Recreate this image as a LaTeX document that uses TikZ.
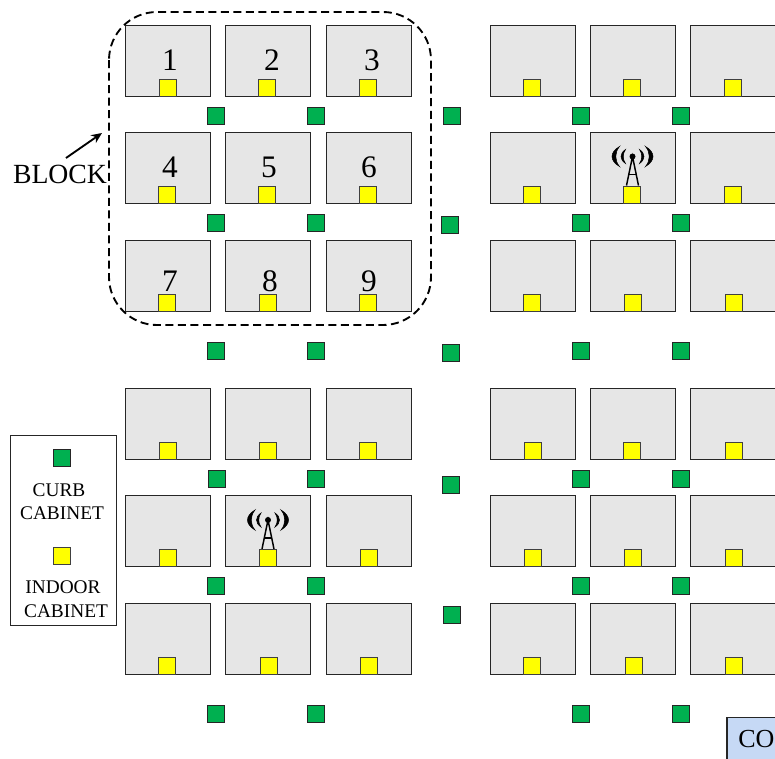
\documentclass[tikz,border=0pt]{standalone}
\usepackage{fontspec}
\setmainfont{Liberation Serif}
\usetikzlibrary{arrows.meta}
\definecolor{bldfill}{HTML}{E6E6E6}
\definecolor{curbgreen}{HTML}{00B050}
\definecolor{indooryellow}{HTML}{FFFF00}
\definecolor{cofill}{HTML}{C6D9F5}
\tikzset{
  px/.style={x=0.75pt,y=-0.75pt},
  building/.style={draw=black!85,fill=bldfill,line width=0.85pt,minimum width=64pt,minimum height=53.6pt,inner sep=0pt,outer sep=0pt},
  curb/.style={draw=black!85,fill=curbgreen,line width=0.85pt,minimum size=13.2pt,inner sep=0pt,outer sep=0pt},
  indoor/.style={draw=black!75,fill=indooryellow,line width=0.85pt,minimum size=13.2pt,inner sep=0pt,outer sep=0pt},
  digit/.style={font=\fontsize{23.5pt}{26pt}\selectfont,inner sep=0pt},
  blocklabel/.style={font=\fontsize{20.8pt}{22pt}\selectfont,inner sep=0pt},
  legendtext/.style={font=\fontsize{14.5pt}{15pt}\selectfont,inner sep=0pt},
  legendbox/.style={draw=black!85,fill=white,line width=0.85pt,minimum width=80pt,minimum height=143pt,inner sep=0pt,outer sep=0pt},
  blockline/.style={draw=black,line width=1.4pt,dash pattern=on 6pt off 3.4pt,rounded corners=36pt},
  arrowline/.style={draw=black,line width=1.4pt,-{Stealth[length=8pt,width=7pt]}},
  mastline/.style={draw=black,line width=1.1pt},
  waveinner/.style={fill=black,draw=black,line width=0.4pt},
  waveouter/.style={fill=black,draw=black,line width=0.4pt},
  gapline/.style={draw=white,line width=0.9pt}
}
\newcommand{\mastat}[2]{%
  \fill[black] (#1,#2) circle[radius=3];
  \draw[mastline] (#1-6,#2+29) -- (#1,#2) -- (#1+6,#2+29);
  \draw[mastline] (#1-3.5,#2+18) -- (#1+3.5,#2+18);
  \draw[waveinner] (#1-7,#2-7) .. controls (#1-13,#2-3) and (#1-13,#2+3) .. (#1-7,#2+7) .. controls (#1-10,#2+3) and (#1-10,#2-3) .. cycle;
  \draw[waveinner] (#1+7,#2-7) .. controls (#1+13,#2-3) and (#1+13,#2+3) .. (#1+7,#2+7) .. controls (#1+10,#2+3) and (#1+10,#2-3) .. cycle;
  \draw[waveouter] (#1-13,#2-10) .. controls (#1-23,#2-4) and (#1-23,#2+4) .. (#1-13,#2+10) .. controls (#1-18,#2+4) and (#1-18,#2-4) .. cycle;
  \draw[waveouter] (#1+13,#2-10) .. controls (#1+23,#2-4) and (#1+23,#2+4) .. (#1+13,#2+10) .. controls (#1+18,#2+4) and (#1+18,#2-4) .. cycle;
}
\begin{document}
\begin{tikzpicture}[px]
\useasboundingbox (0,0) rectangle (775,758);
\clip (0,0) rectangle (775,758);
% buildings
\foreach \r/\y in {1/61,2/168,3/276,4/424,5/531,6/639}
  \foreach \c/\x in {1/167.8,2/267.8,3/368.8,4/532.8,5/632.8,6/732.8}
    \node[building] (b\r\c) at (\x,\y) {};
% digits
\foreach \n/\x/\y in {1/170/60,2/272/60,3/372/60,4/170/167,5/269/167,6/369/167,7/170/281,8/270/281,9/369/281}
  \node[digit] (d\n) at (\x,\y) {\n};
% gaps and masts
\draw[gapline] (610,204.5) -- (655,204.5);
\draw[gapline] (246,567.5) -- (291,567.5);
\mastat{632.5}{156.5}
\mastat{268}{520}
% indoor cabinets
\foreach \i/\x/\y in {
  a/168/88,b/267/88,c/368/88,d/532/88,e/632/88,f/733/88,
  g/167/195,h/267/195,i/368/195,j/532/195,k/632/195,l/733/195,
  m/167/303,n/268/303,o/368/303,p/532/303,q/633/303,r/734/303,
  s/168/451,t/268/451,u/368/451,v/533/451,w/632/451,x/734/451,
  y/168/558,z/268/558,A/369/558,B/533/558,C/633/558,D/734/558,
  E/167/666,F/269/666,G/369/666,H/532/666,I/634/666,J/734/666}
  \node[indoor] (in\i) at (\x,\y) {};
% curb cabinets
\foreach \i/\x/\y in {
  a/216/116,b/316/116,c/452/116,d/581/116,e/681/116,
  f/216/223,g/316/223,h/450/225,i/581/223,j/681/223,
  k/216/351,l/316/351,m/451/353,n/581/351,o/681/351,
  p/217/479,q/316/479,r/451/485,s/581/479,t/681/479,
  u/216/586,v/316/586,w/452/615,x/581/586,y/681/586,
  z/216/714,A/316/714,B/581/714,C/681/714}
  \node[curb] (cu\i) at (\x,\y) {};
% block outline
\draw[blockline] (109,12) rectangle (431,325);
% block label
\node[blocklabel] (blk) at (60,174) {BLOCK};
\coordinate (blktip) at (102,133);
\draw[arrowline] (66,158) -- (blktip);
% legend
\node[legendbox] (lg) at (63.5,530.5) {};
\node[curb] (lgc) at (62,458) {};
\node[legendtext] (lt1) at (59,490) {CURB};
\node[legendtext] (lt2) at (62,513) {CABINET};
\node[indoor] (lgi) at (62,556) {};
\node[legendtext] (lt3) at (63,587) {INDOOR};
\node[legendtext] (lt4) at (66,611) {CABINET};
% CO
\node[draw=black!85,fill=cofill,line width=0.85pt,minimum width=54pt,minimum height=38pt,inner sep=0pt,outer sep=0pt] (cobox) at (763,743) {};
\node[font=\fontsize{19.5pt}{22pt}\selectfont,inner sep=0pt,anchor=west] (co) at (738,739.5) {CO};
\end{tikzpicture}
\end{document}
